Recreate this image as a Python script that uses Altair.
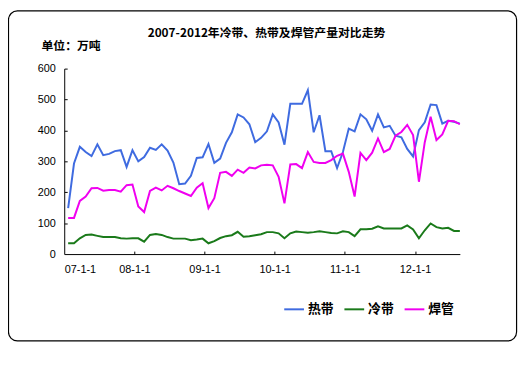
import altair as alt
import pandas as pd

# ---- data ----
tick_labels = ["07-1-1", "08-1-1", "09-1-1", "10-1-1", "11-1-1", "12-1-1"]
tick_months = [0, 12, 24, 36, 48, 60]
series_names = ["热带", "冷带", "焊管"]
series_colors = ["#3F6BE0", "#1A7A1A", "#F000F0"]
title_text = "2007-2012年冷带、热带及焊管产量对比走势"
unit_text = "单位：万吨"
y_ticks = [0, 100, 200, 300, 400, 500, 600]

# monthly values Jan 2007 .. Aug 2012 (68 months)
hot = [149, 293, 347, 330, 317, 355, 320, 324, 333, 336, 282, 336,
       300, 314, 344, 337, 355, 335, 296, 226, 228, 253, 311, 313,
       356, 295, 309, 360, 394, 452, 442, 420, 362, 376, 397, 452,
       426, 354, 486, 486, 486, 530, 394, 449, 333, 333, 278, 330,
       406, 397, 452, 436, 399, 452, 410, 415, 383, 378, 340, 316,
       401, 426, 484, 482, 422, 431, 428, 422]
cold = [35, 35, 51, 62, 63, 59, 55, 55, 55, 51, 50, 51,
        51, 40, 62, 65, 62, 55, 50, 50, 50, 45, 47, 50,
        35, 42, 52, 58, 61, 72, 56, 58, 61, 64, 71, 71,
        67, 51, 67, 73, 71, 69, 71, 74, 71, 68, 67, 74,
        71, 58, 80, 80, 82, 90, 83, 83, 83, 83, 93, 80,
        51, 77, 99, 87, 83, 85, 75, 75]
pipe = [117, 117, 172, 186, 213, 214, 205, 207, 207, 202, 223, 225,
        154, 136, 204, 215, 206, 221, 213, 204, 196, 188, 215, 229,
        149, 181, 263, 266, 253, 273, 263, 280, 277, 287, 289, 287,
        250, 164, 290, 291, 278, 330, 298, 295, 295, 304, 318, 325,
        266, 186, 327, 304, 328, 374, 330, 340, 383, 395, 418, 385,
        234, 362, 444, 369, 387, 431, 430, 420]

# position of each monthly point inside its month (month index + ~20 days)
month_pos = [k + 0.67 for k in range(len(hot))]
x_end = month_pos[-1]

rows = []
for name, vals in zip(series_names, [hot, cold, pipe]):
    for p, v in zip(month_pos, vals):
        rows.append({"t": p, "v": v, "s": name})
df = pd.DataFrame(rows)

W, H = 401, 188
LAT = "Liberation Sans"
CJK = "Noto Sans CJK SC"

label_expr = "[" + ",".join("'%s'" % l for l in tick_labels) + "][round(datum.value/12)]"

xscale = alt.Scale(domain=[0, x_end], nice=False, zero=False)
yscale = alt.Scale(domain=[0, 600], nice=False)

lines = alt.Chart(df).mark_line(strokeWidth=2).encode(
    x=alt.X("t:Q", scale=xscale,
            axis=alt.Axis(orient="bottom", values=tick_months, labelExpr=label_expr,
                          title=None, grid=False, ticks=False, tickSize=0,
                          domainColor="black", labelFont=LAT, labelFontSize=11,
                          labelColor="black", labelPadding=10)),
    y=alt.Y("v:Q", scale=yscale,
            axis=alt.Axis(orient="left", values=y_ticks, title=None, grid=False,
                          ticks=False, tickSize=0, domainColor="black", labelFont=LAT,
                          labelFontSize=11, labelColor="black", labelPadding=9)),
    color=alt.Color("s:N",
                    scale=alt.Scale(domain=series_names, range=series_colors),
                    legend=alt.Legend(title=None, orient="none", direction="horizontal",
                                      legendX=222, legendY=233, symbolType="stroke",
                                      symbolSize=400, symbolStrokeWidth=2,
                                      labelFont=CJK, labelFontSize=13,
                                      labelFontWeight="bold", labelColor="black",
                                      labelOffset=3, columnPadding=6, padding=0)),
    order="t:Q",
)

# inward tick marks (separate tick-only axes)
ticks_layer = alt.Chart(df).mark_line(opacity=0).encode(
    x=alt.X("t:Q", scale=xscale,
            axis=alt.Axis(values=tick_months[1:], orient="bottom", offset=-3, tickSize=3,
                          domain=False, labels=False, grid=False, title=None,
                          tickColor="black")),
    y=alt.Y("v:Q", scale=yscale,
            axis=alt.Axis(values=y_ticks[1:], orient="left", offset=-3, tickSize=3,
                          domain=False, labels=False, grid=False, title=None,
                          tickColor="black")),
    detail="s:N",
)

one = pd.DataFrame({"title": [title_text], "unit": [unit_text]})

title_mark = alt.Chart(one).mark_text(font=CJK, fontSize=12, fontWeight="bold",
                                      align="center", baseline="middle",
                                      color="black").encode(
    text="title:N", x=alt.value(205), y=alt.value(-36))

unit_mark = alt.Chart(one).mark_text(font=CJK, fontSize=12, fontWeight="bold",
                                     align="left", baseline="middle",
                                     color="black").encode(
    text="unit:N", x=alt.value(-23), y=alt.value(-23))

frame = alt.Chart(one).mark_rect(fillOpacity=0, stroke="black", strokeWidth=1.2,
                                 cornerRadius=9).encode(
    x=alt.value(-56.5), x2=alt.value(458.5), y=alt.value(-58.5), y2=alt.value(276))

chart = alt.layer(frame, ticks_layer, lines, title_mark, unit_mark).resolve_axis(
    x="independent", y="independent"
).properties(
    width=W, height=H,
    autosize=alt.AutoSizeParams(type="none"),
    padding={"left": 57, "top": 59, "right": 63, "bottom": 110},
    background="white",
).configure_view(stroke=None)

chart.save("out.html", embed_options={"renderer": "svg", "actions": False})
